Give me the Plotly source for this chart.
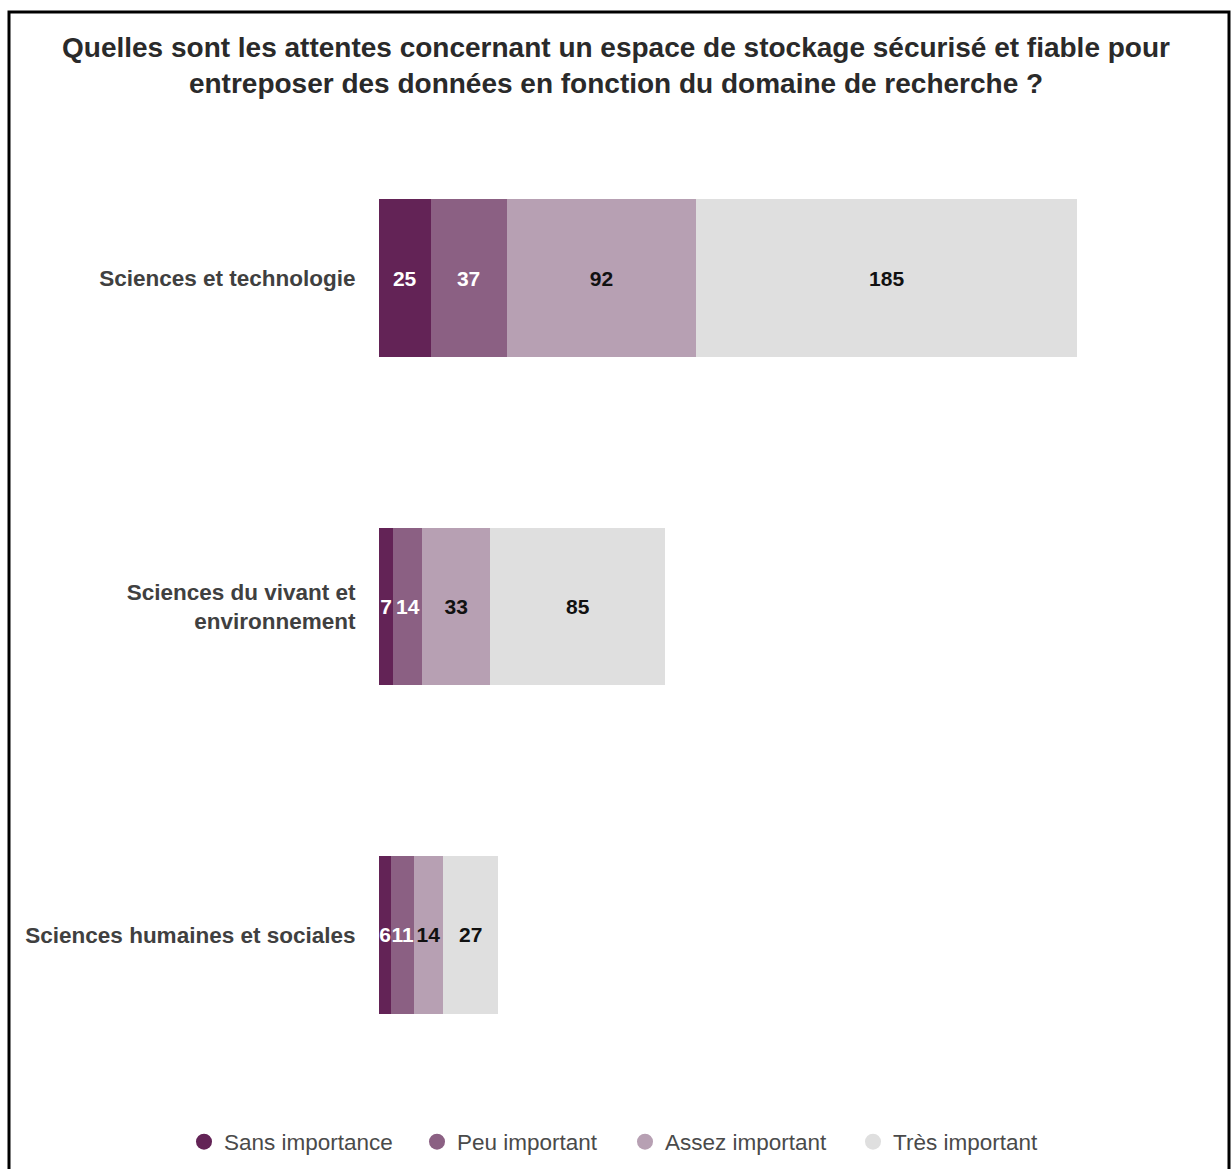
import plotly.graph_objects as go

categories = ["Sciences et technologie", "Sciences du vivant et<br>environnement", "Sciences humaines et sociales"]
series_names = ["Sans importance", "Peu important", "Assez important", "Très important"]
sans_importance = [25, 7, 6]
peu_important = [37, 14, 11]
assez_important = [92, 33, 14]
tres_important = [185, 85, 27]
values = [sans_importance, peu_important, assez_important, tres_important]

colors = ["#632356", "#8b6083", "#b7a0b3", "#dfdfdf"]
text_colors = ["#ffffff", "#ffffff", "#111111", "#111111"]
FONT = "Liberation Sans, Arial, sans-serif"

W, H = 1232, 1169
L, R, T, B = 379, 42, 114, 70
pw, ph = W - L - R, H - T - B
legend_ids = ["legend", "legend2", "legend3", "legend4"]
legend_px = [203, 436, 644, 872]  # circle centres (px) of the legend entries

fig = go.Figure()
for name, vals, c, tc, lid in zip(series_names, values, colors, text_colors, legend_ids):
    fig.add_trace(go.Bar(
        y=categories, x=vals, orientation="h", name=name,
        marker=dict(color=c, line=dict(width=0)),
        text=[f"<b>{v}</b>" for v in vals], textposition="inside",
        insidetextanchor="middle", textangle=0, constraintext="none",
        insidetextfont=dict(color=tc, size=21, family=FONT),
        showlegend=False, hoverinfo="skip",
    ))
    fig.add_trace(go.Scatter(
        x=[None], y=[None], mode="markers", name=name, legend=lid,
        marker=dict(color=c, size=20, symbol="circle"),
        showlegend=True,
    ))

legend_common = dict(orientation="h", xref="container", yref="container",
                     xanchor="left", y=1 - 1142 / H, yanchor="middle",
                     font=dict(size=22.5, color="#4a4a4a", family=FONT),
                     bgcolor="rgba(0,0,0,0)")
legends = {lid: dict(legend_common, x=(px - 19) / W) for lid, px in zip(legend_ids, legend_px)}

fig.update_layout(
    width=W, height=H,
    margin=dict(l=L, r=R, t=T, b=B),
    paper_bgcolor="white", plot_bgcolor="white",
    barmode="stack", bargap=0.52,
    uniformtext=dict(minsize=21, mode="show"),
    font=dict(family=FONT, color="#333333"),
    title=dict(
        text="<b>Quelles sont les attentes concernant un espace de stockage sécurisé et fiable pour<br>entreposer des données en fonction du domaine de recherche ?</b>",
        x=0.5, xref="container", xanchor="center",
        y=1 - 56.5 / H, yref="container", yanchor="middle",
        font=dict(size=28, color="#2a2a2a", family=FONT),
    ),
    xaxis=dict(range=[0, pw / 2.06], showgrid=False, zeroline=False,
               showticklabels=False, showline=False, fixedrange=True),
    yaxis=dict(categoryorder="array", categoryarray=categories, autorange="reversed",
               showgrid=False, zeroline=False, showline=False,
               ticks="outside", ticklen=18, tickcolor="rgba(0,0,0,0)",
               tickfont=dict(size=22.5, color="#404040", family=FONT)),
    shapes=[dict(type="rect", xref="paper", yref="paper",
                 x0=(9 - L) / pw, x1=(1229 - L) / pw,
                 y0=(H - B - 1185) / ph, y1=(H - B - 12) / ph,
                 line=dict(color="black", width=3), fillcolor="rgba(0,0,0,0)",
                 layer="above")],
    **legends,
)
fig.update_yaxes(ticktext=[f"<b>{c}</b>" for c in categories], tickvals=categories)

fig.write_html("out.html", config={"displayModeBar": False},
               post_script="document.body.style.margin='0';")
